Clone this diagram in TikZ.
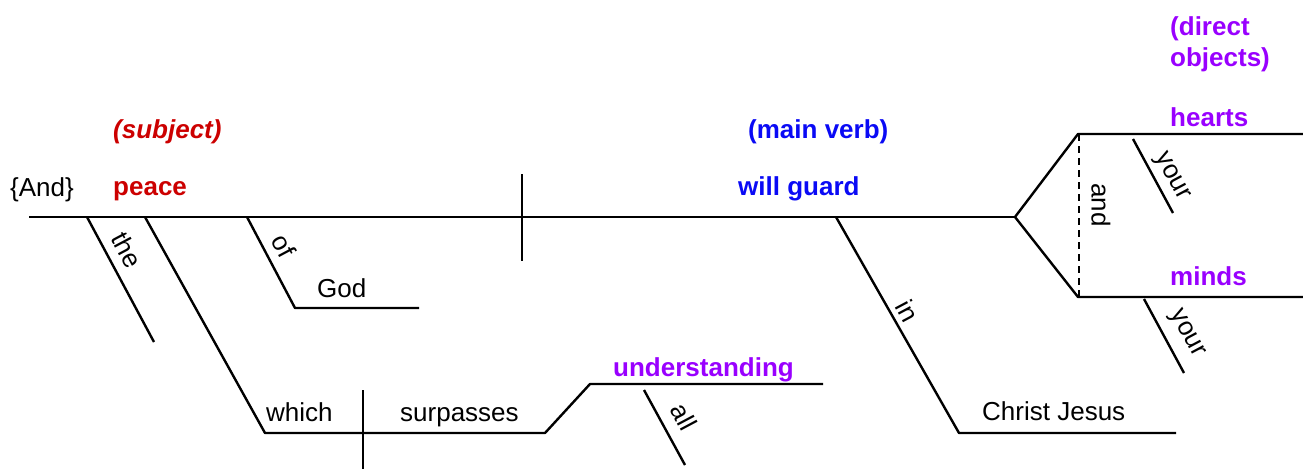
\documentclass[tikz,border=0pt]{standalone}
\usepackage{fontspec}
\setmainfont{Liberation Sans}
\definecolor{subjred}{RGB}{204,0,0}
\definecolor{verbblue}{RGB}{10,10,245}
\definecolor{objpurple}{RGB}{153,0,255}
\begin{document}
\begin{tikzpicture}[x=1pt,y=-1pt,
  ln/.style={line width=2.4pt, line join=round},
  dashln/.style={line width=2.4pt, dash pattern=on 7pt off 5pt},
  txt/.style={inner sep=0pt, font=\fontsize{26}{31}\selectfont},
  bld/.style={inner sep=0pt, font=\fontsize{26}{31}\selectfont\bfseries},
  slant/.style={txt, anchor=center, rotate=-62}]
\useasboundingbox (0,0) rectangle (1303,469);
% coordinates
\coordinate (m0) at (29,217);
\coordinate (mF) at (1015,217);
\coordinate (theT) at (87,217);
\coordinate (theB) at (154,342);
\coordinate (whT) at (145,217);
\coordinate (whB) at (265,433);
\coordinate (surE) at (545,433);
\coordinate (undS) at (590,384);
\coordinate (undE) at (823,384);
\coordinate (dv2T) at (363,390);
\coordinate (dv2B) at (363,469);
\coordinate (dv1T) at (522,174);
\coordinate (dv1B) at (522,261);
\coordinate (ofT) at (247,217);
\coordinate (ofB) at (295,308);
\coordinate (godE) at (419,308);
\coordinate (inT) at (836,217);
\coordinate (inB) at (959,433);
\coordinate (cjE) at (1176,433);
\coordinate (hS) at (1078,134);
\coordinate (hE) at (1303,134);
\coordinate (mS) at (1078,297);
\coordinate (mE) at (1303,297);
\coordinate (andT) at (1079,134);
\coordinate (andB) at (1079,297);
\coordinate (y1T) at (1133,139);
\coordinate (y1B) at (1173,213);
\coordinate (y2T) at (1144,299);
\coordinate (y2B) at (1184,373);
\coordinate (allT) at (644,390);
\coordinate (allB) at (685,465);
% lines
\draw[ln] (m0) -- (mF);
\draw[ln] (theT) -- (theB);
\draw[ln] (whT) -- (whB) -- (surE) -- (undS) -- (undE);
\draw[ln] (dv2T) -- (dv2B);
\draw[ln] (dv1T) -- (dv1B);
\draw[ln] (ofT) -- (ofB) -- (godE);
\draw[ln] (inT) -- (inB) -- (cjE);
\draw[ln] (mF) -- (hS) -- (hE);
\draw[ln] (mF) -- (mS) -- (mE);
\draw[dashln] (andT) -- (andB);
\draw[ln] (y1T) -- (y1B);
\draw[ln] (y2T) -- (y2B);
\draw[ln] (allT) -- (allB);
% texts
\node[txt, anchor=base west] (and0) at (10,196) {\{And\}};
\node[bld, anchor=base west, text=subjred] (peace) at (113,195) {peace};
\node[bld, anchor=base west, text=subjred, font=\fontsize{26}{31}\selectfont\bfseries\itshape] (subj) at (113,138) {(subject)};
\node[bld, anchor=base west, text=verbblue] (mverb) at (748,138) {(main verb)};
\node[bld, anchor=base west, text=verbblue] (wg) at (738,195) {will guard};
\node[bld, anchor=base west, text=objpurple] (dobj1) at (1170,35) {(direct};
\node[bld, anchor=base west, text=objpurple] (dobj2) at (1170,66) {objects)};
\node[bld, anchor=base west, text=objpurple] (hearts) at (1170,126) {hearts};
\node[bld, anchor=base west, text=objpurple] (minds) at (1170,285) {minds};
\node[bld, anchor=base west, text=objpurple] (und) at (613,376) {understanding};
\node[txt, anchor=base west] (god) at (317,297) {God};
\node[txt, anchor=base west] (which) at (266,421) {which};
\node[txt, anchor=base west] (surp) at (400,421) {surpasses};
\node[txt, anchor=base west] (cj) at (982,420) {Christ Jesus};
\node[slant] (the) at (127,250) {the};
\node[slant] (of) at (284,246) {of};
\node[slant] (in) at (908,311) {in};
\node[slant] (all) at (684,417) {all};
\node[slant] (your1) at (1171,177) {your};
\node[slant] (your2) at (1186,334) {your};
\node[txt, anchor=center, rotate=-90] (andc) at (1101,205) {and};
\end{tikzpicture}
\end{document}
